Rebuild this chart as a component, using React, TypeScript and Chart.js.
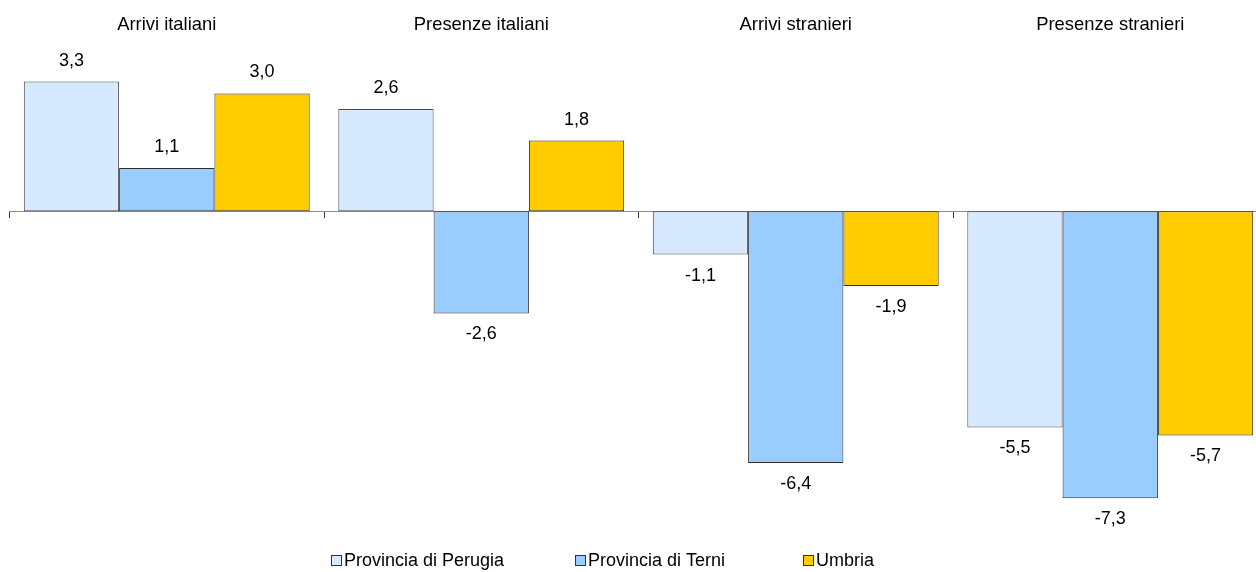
import { useEffect, useRef } from 'react';
import { Chart, registerables } from 'chart.js';

Chart.register(...registerables);

const categories = ['Arrivi italiani', 'Presenze italiani', 'Arrivi stranieri', 'Presenze stranieri'];
const seriesNames = ['Provincia di Perugia', 'Provincia di Terni', 'Umbria'];
const perugia = [3.3, 2.6, -1.1, -5.5];
const terni = [1.1, -2.6, -6.4, -7.3];
const umbria = [3.0, 1.8, -1.9, -5.7];
const seriesColors = ['#D6E9FF', '#99CCFF', '#FFCC00'];
const seriesBorders = ['#4a4a4a', '#2e2e2e', '#2a2a2a'];

const FONT = '"Liberation Sans", Arial, Helvetica, sans-serif';

const fmt = (v: number) => v.toFixed(1).replace('.', ',');

const valueLabels = {
  id: 'valueLabels',
  afterDatasetsDraw(chart: any) {
    const ctx = chart.ctx;
    ctx.save();
    ctx.font = `18px ${FONT}`;
    ctx.fillStyle = '#000';
    ctx.textAlign = 'center';
    ctx.textBaseline = 'middle';
    chart.data.datasets.forEach((ds: any, i: number) => {
      const meta = chart.getDatasetMeta(i);
      meta.data.forEach((el: any, j: number) => {
        const v = ds.data[j] as number;
        const y = v >= 0 ? el.y - 21 : el.y + 21;
        ctx.fillText(fmt(v), el.x, y);
      });
    });
    ctx.restore();
  },
};

const customLegend = {
  id: 'customLegend',
  afterDraw(chart: any) {
    const ctx = chart.ctx;
    const xs = [331, 575, 803];
    ctx.save();
    ctx.font = `18px ${FONT}`;
    ctx.textBaseline = 'middle';
    ctx.textAlign = 'left';
    chart.data.datasets.forEach((ds: any, i: number) => {
      const x = xs[i];
      ctx.fillStyle = ds.backgroundColor;
      ctx.fillRect(x + 0.5, 555.5, 10, 10);
      ctx.strokeStyle = '#333';
      ctx.lineWidth = 1;
      ctx.strokeRect(x + 0.5, 555.5, 10, 10);
      ctx.fillStyle = '#000';
      ctx.fillText(ds.label, x + 13, 561);
    });
    ctx.restore();
  },
};

export default function App() {
  const ref = useRef<HTMLCanvasElement | null>(null);

  useEffect(() => {
    if (!ref.current) return;
    const datasets = [perugia, terni, umbria].map((d, i) => ({
      label: seriesNames[i],
      data: d,
      backgroundColor: seriesColors[i],
      borderColor: seriesBorders[i],
      borderWidth: 1,
      borderSkipped: false,
      xAxisID: 'x',
      yAxisID: 'y',
      categoryPercentage: 0.909,
      barPercentage: 1,
    }));
    const chart = new Chart(ref.current, {
      type: 'bar',
      data: { labels: categories, datasets },
      plugins: [valueLabels, customLegend],
      options: {
        animation: false,
        responsive: false,
        devicePixelRatio: 1,
        layout: { padding: { left: 9.5, right: 9.5, top: 10, bottom: 42 } },
        plugins: {
          legend: { display: false },
          tooltip: { enabled: false },
          title: { display: false },
        },
        scales: {
          x: {
            type: 'category',
            position: { y: 0 } as any,
            offset: true,
            grid: {
              display: true,
              offset: true,
              drawOnChartArea: false,
              drawTicks: true,
              tickLength: 6,
              color: '#333',
            },
            border: { display: true, color: '#8c8c8c', width: 1 },
            ticks: { display: false },
          },
          x2: {
            type: 'category',
            position: 'top',
            offset: true,
            grid: { display: false, drawTicks: false },
            border: { display: false },
            ticks: {
              padding: 4.2,
              color: '#000',
              font: { family: FONT, size: 18.4 },
              maxRotation: 0,
              autoSkip: false,
            },
          },
          y: {
            type: 'linear',
            display: false,
            min: -8.107,
            max: 4.346,
          },
        },
      },
    });
    return () => chart.destroy();
  }, []);

  return (
    <div style={{ position: 'fixed', left: 0, top: 0, width: 1256, height: 572, overflow: 'hidden', background: '#fff' }}>
      <canvas ref={ref} width={1277} height={572} style={{ display: 'block', width: 1277, height: 572 }} />
    </div>
  );
}
